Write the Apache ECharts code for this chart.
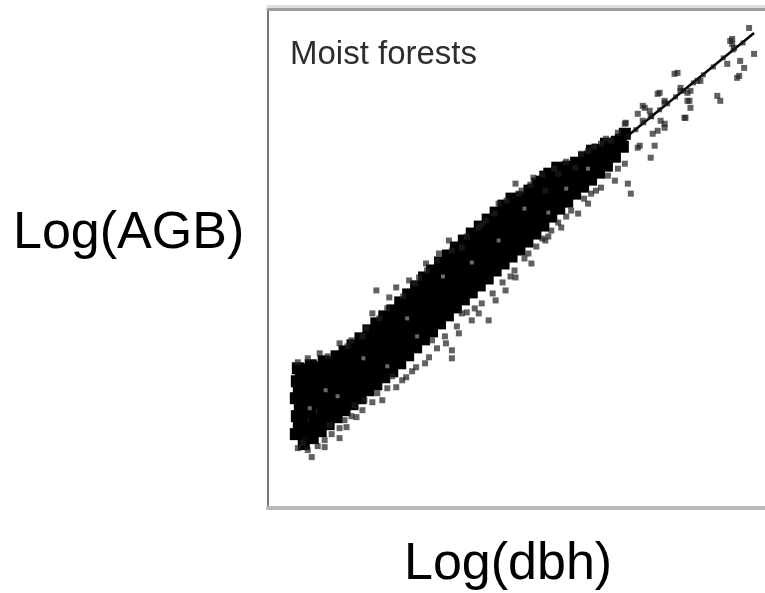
<!DOCTYPE html>
<html>
<head>
<meta charset="utf-8">
<script src="https://cdn.jsdelivr.net/npm/echarts@6/dist/echarts.min.js"></script>
<style>
  html, body { margin: 0; padding: 0; background: #fff; }
  #chart { width: 765px; height: 593px; }
</style>
</head>
<body>
<div id="chart"></div>
<script>
// axis units are arbitrary (no tick labels in the source): x = log(dbh), y = log(AGB)
var xRange = [0, 500];
var yRange = [0, 500];

// dense core of the cloud
var corePoints = [
  [28,74],[31,83],[29,92],[32,101],[28,110],[31,119],[29,127],[33,134],[30,140],
  [36,64],[38,76],[35,85],[39,95],[37,104],[36,113],[39,122],[37,131],[40,139],
  [45,70],[44,80],[47,89],[43,98],[46,108],[44,117],[47,126],[45,135],[43,143],
  [53,77],[51,87],[55,96],[52,105],[54,114],[51,123],[55,132],[52,141],[56,147],
  [61,84],[59,93],[63,101],[60,110],[62,120],[59,129],[63,137],[61,146],
  [69,91],[67,99],[71,108],[68,117],[70,127],[67,135],[71,144],[69,152],
  [77,98],[75,106],[79,115],[76,124],[78,133],[75,142],[79,150],[77,157],
  [85,104],[83,112],[87,121],[84,130],[86,139],[83,148],[87,156],[85,163],
  [93,110],[91,119],[95,128],[92,137],[94,146],[91,155],[95,163],[93,170],
  [101,118],[99,126],[103,135],[100,144],[102,153],[99,162],[103,171],[101,178],
  [109,124],[107,132],[111,141],[108,150],[110,159],[107,168],[111,177],[109,185],
  [117,131],[115,139],[119,148],[116,157],[118,166],[115,175],[119,184],[117,192],
  [125,137],[123,145],[127,154],[124,163],[126,172],[123,181],[127,190],[125,198],
  [133,145],[131,153],[135,162],[132,171],[134,180],[131,189],[135,198],[133,206],
  [141,153],[139,161],[143,170],[140,179],[142,188],[139,197],[143,206],[141,214],
  [149,161],[147,169],[151,178],[148,187],[150,196],[147,205],[151,214],[149,222],
  [157,169],[155,177],[159,186],[156,195],[158,204],[155,213],[159,222],[157,231],
  [165,177],[163,185],[167,194],[164,203],[166,212],[163,221],[167,230],[165,238],
  [173,185],[171,193],[175,202],[172,211],[174,220],[171,229],[175,238],[173,246],
  [181,193],[179,201],[183,210],[180,219],[182,228],[179,237],[183,246],[181,253],
  [189,201],[187,209],[191,218],[188,227],[190,236],[187,245],[191,254],[189,261],
  [197,209],[195,217],[199,226],[196,235],[198,244],[195,253],[199,261],[197,268],
  [205,216],[203,224],[207,233],[204,242],[206,251],[203,260],[207,268],[205,275],
  [213,223],[211,231],[215,240],[212,249],[214,258],[211,267],[215,275],[213,282],
  [221,230],[219,238],[223,247],[220,256],[222,265],[219,274],[223,282],[221,289],
  [229,238],[227,246],[231,255],[228,264],[230,273],[227,282],[231,290],[229,296],
  [237,245],[235,253],[239,262],[236,271],[238,280],[235,289],[239,297],[237,303],
  [245,252],[243,260],[247,269],[244,278],[246,287],[243,296],[247,304],[245,310],
  [253,259],[251,267],[255,276],[252,285],[254,294],[251,303],[255,311],
  [261,267],[259,275],[263,284],[260,293],[262,302],[259,311],[263,318],
  [269,275],[267,283],[271,292],[268,301],[270,310],[267,319],[271,325],
  [277,283],[275,291],[279,300],[276,309],[278,318],[275,327],[279,332],
  [285,292],[283,300],[287,309],[284,318],[286,327],[283,335],
  [293,300],[291,308],[295,317],[292,326],[294,335],[291,341],
  [301,307],[299,315],[303,324],[300,333],[302,342],
  [309,315],[307,322],[311,330],[308,338],[310,346],
  [317,322],[315,329],[319,337],[316,345],[318,351],
  [325,329],[323,336],[327,344],[324,352],[326,358],
  [333,336],[331,343],[335,351],[332,359],
  [341,343],[339,350],[343,358],[340,365],
  [349,352],[347,359],[351,367],
  [357,362],[355,369],[359,375]
];

// lighter specks inside the core
var paleCore = [
  [42,100],[58,118],[96,150],[120,142],[150,172],[176,232],[205,246],
  [232,268],[258,300],[282,296],[300,320],[322,340],[70,112],[140,190]
];

// scattered trees around the core
var outerPoints = [
  [44,51],[35,65],[57,68],[79,81],[72,80],[89,91],[105,106],[115,108],[129,121],
  [139,131],[149,141],[162,151],[185,158],[185,150],[179,165],[192,175],[205,188],
  [222,188],[212,195],[195,195],[229,208],[239,218],[249,231],[265,245],[262,255],
  [279,268],[285,278],[295,281],[312,295],[322,305],[325,315],[335,321],[349,328],
  [362,325],[365,315],[359,345],[372,361],[385,351],[389,363],[392,378],[399,385],
  [419,391],[425,401],[422,408],[455,408],[452,413],[472,431],[479,441],[475,448],
  [489,455],[465,468],[484,481],
  [52,155],[72,165],[84,168],[99,180],[105,195],[109,218],[122,211],[129,221],
  [142,228],[152,231],[159,245],[172,255],[182,268],[195,261],[212,281],[219,288],
  [232,305],[249,325],[255,318],[267,331],[279,318],[292,335],[309,341],[322,358],
  [335,365],[345,368],[359,385],[372,395],[379,401],[385,393],[392,415],[399,408],
  [409,435],[415,421],[425,418],[435,428],[462,445],[469,461],
  [62,83],[77,88],[87,103],[97,108],[72,70],[57,61],
  [467,470],[467,465],[474,433],[412,436],[432,428],[415,418],[422,416],[394,416],
  [424,408],[399,406],[377,403],[384,398],[420,391],[395,388],[360,386],[377,388],
  [399,381],[387,375],[374,363],
  [110,115],[120,120],[135,128],[145,137],[158,145],[170,160],[178,172],[190,182],
  [200,196],[215,205],[226,215],[236,226],[248,238],[258,250],[270,262],[282,272],
  [292,286],[305,298],[318,310],[330,318],[342,333],[352,340],[125,132],[165,168],
  [208,200],[244,232],[276,270],[300,292],
  [60,152],[80,162],[95,172],[112,190],[120,200],[136,212],[148,225],[160,238],
  [170,248],[185,258],[200,272],[215,284],[228,295],[240,308],[252,315],[264,324],
  [276,334],[288,340],[300,347],[315,355],[328,362],[340,370],[352,376],
  [30,60],[40,58],[50,62],[64,74],[84,92],[95,98],[30,146],[40,150]
];

// points sitting on the fitted line near the top
var linePoints = [
  [362,373],[370,379],[378,386],[386,392],[394,399],[402,405],[410,412],
  [418,418],[428,426],[438,434],[448,442],[458,451],[468,459],[478,466]
];

// fitted regression line
var fitX = [30, 489];
var fitY = [104, 476];

var chart = echarts.init(document.getElementById('chart'), null, { renderer: 'canvas' });

var option = {
  backgroundColor: '#ffffff',
  animation: false,
  grid: { left: 268, top: 9, width: 500, height: 499, containLabel: false },
  xAxis: [
    {
      type: 'value', min: xRange[0], max: xRange[1], position: 'bottom',
      axisLine: { show: true, lineStyle: { color: '#b8b8b8', width: 4 } },
      axisTick: { show: false }, axisLabel: { show: false }, splitLine: { show: false }
    },
    {
      type: 'value', min: xRange[0], max: xRange[1], position: 'top',
      axisLine: { show: true, lineStyle: { color: '#9e9e9e', width: 3, shadowColor: '#dcdcdc', shadowOffsetY: -3 } },
      axisTick: { show: false }, axisLabel: { show: false }, splitLine: { show: false }
    }
  ],
  yAxis: {
    type: 'value', min: yRange[0], max: yRange[1],
    axisLine: { show: true, lineStyle: { color: '#777777', width: 2 } },
    axisTick: { show: false }, axisLabel: { show: false }, splitLine: { show: false }
  },
  graphic: [
    {
      type: 'text', left: 290, top: 38,
      style: { text: 'Moist forests', fontFamily: 'Liberation Sans, Arial', fontSize: 33, fill: '#2e2e2e' }
    },
    {
      type: 'text', x: 13, y: 234,
      style: { text: 'Log(AGB)', fontFamily: 'Liberation Sans, Arial', fontSize: 52, fill: '#000', verticalAlign: 'middle' }
    },
    {
      type: 'text', x: 404, y: 565,
      style: { text: 'Log(dbh)', fontFamily: 'Liberation Sans, Arial', fontSize: 52, fill: '#000', verticalAlign: 'middle' }
    }
  ],
  series: [
    {
      type: 'line', symbol: 'none', silent: true, z: 1,
      lineStyle: { color: '#000', width: 2.5 },
      data: fitX.map(function (x, i) { return [x, fitY[i]]; })
    },
    {
      type: 'scatter', symbol: 'rect', symbolSize: 12, silent: true, z: 2,
      itemStyle: { color: '#000', opacity: 1 },
      data: corePoints
    },
    {
      type: 'scatter', symbol: 'rect', symbolSize: 4, silent: true, z: 3,
      itemStyle: { color: '#6a6a6a', opacity: 1 },
      data: paleCore
    },
    {
      type: 'scatter', symbol: 'rect', symbolSize: 6, silent: true, z: 3,
      itemStyle: { color: 'rgba(30,30,30,0.7)', opacity: 1 },
      data: outerPoints
    },
    {
      type: 'scatter', symbol: 'rect', symbolSize: 5, silent: true, z: 3,
      itemStyle: { color: 'rgba(20,20,20,0.7)', opacity: 1 },
      data: linePoints
    }
  ]
};

chart.setOption(option);
</script>
</body>
</html>
